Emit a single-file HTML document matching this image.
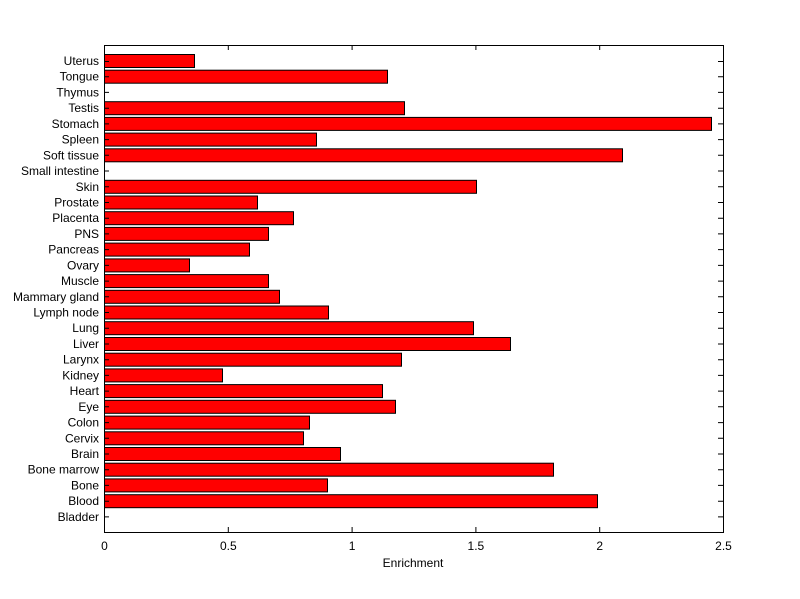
<!DOCTYPE html>
<html><head><style>body{margin:0;background:#fff}svg{display:block}text{font-family:"Liberation Sans",Arial,sans-serif;font-size:12px;fill:#000}</style></head>
<body>
<svg width="800" height="599" xmlns="http://www.w3.org/2000/svg">
<rect width="800" height="599" fill="#fff"/>
<g fill="#ff0000" stroke="#000" stroke-width="1">
<rect x="104.5" y="54.5" width="90" height="13"/>
<rect x="104.5" y="70.2" width="283" height="13"/>
<rect x="104.5" y="101.7" width="300" height="13"/>
<rect x="104.5" y="117.4" width="607" height="13"/>
<rect x="104.5" y="133.1" width="212" height="13"/>
<rect x="104.5" y="148.8" width="518" height="13"/>
<rect x="104.5" y="180.3" width="372" height="13"/>
<rect x="104.5" y="196" width="153" height="13"/>
<rect x="104.5" y="211.7" width="189" height="13"/>
<rect x="104.5" y="227.4" width="164" height="13"/>
<rect x="104.5" y="243.1" width="145" height="13"/>
<rect x="104.5" y="258.9" width="85" height="13"/>
<rect x="104.5" y="274.6" width="164" height="13"/>
<rect x="104.5" y="290.3" width="175" height="13"/>
<rect x="104.5" y="306" width="224" height="13"/>
<rect x="104.5" y="321.7" width="369" height="13"/>
<rect x="104.5" y="337.5" width="406" height="13"/>
<rect x="104.5" y="353.2" width="297" height="13"/>
<rect x="104.5" y="368.9" width="118" height="13"/>
<rect x="104.5" y="384.6" width="278" height="13"/>
<rect x="104.5" y="400.3" width="291" height="13"/>
<rect x="104.5" y="416.1" width="205" height="13"/>
<rect x="104.5" y="431.8" width="199" height="13"/>
<rect x="104.5" y="447.5" width="236" height="13"/>
<rect x="104.5" y="463.2" width="449" height="13"/>
<rect x="104.5" y="478.9" width="223" height="13"/>
<rect x="104.5" y="494.7" width="493" height="13"/>
</g>
<rect x="104.5" y="45.5" width="619" height="487" fill="none" stroke="#000"/>
<path stroke="#000" fill="none" d="M104 61.5h5M718 61.5h5M104 76.7h5M718 76.7h5M104 92.4h5M718 92.4h5M104 108.2h5M718 108.2h5M104 123.9h5M718 123.9h5M104 139.6h5M718 139.6h5M104 155.3h5M718 155.3h5M104 171h5M718 171h5M104 186.8h5M718 186.8h5M104 202.5h5M718 202.5h5M104 218.2h5M718 218.2h5M104 233.9h5M718 233.9h5M104 249.6h5M718 249.6h5M104 265.4h5M718 265.4h5M104 281.1h5M718 281.1h5M104 296.8h5M718 296.8h5M104 312.5h5M718 312.5h5M104 328.2h5M718 328.2h5M104 344h5M718 344h5M104 359.7h5M718 359.7h5M104 375.4h5M718 375.4h5M104 391.1h5M718 391.1h5M104 406.8h5M718 406.8h5M104 422.6h5M718 422.6h5M104 438.3h5M718 438.3h5M104 454h5M718 454h5M104 469.7h5M718 469.7h5M104 485.4h5M718 485.4h5M104 501.2h5M718 501.2h5M104 516.9h5M718 516.9h5M228.3 532v-5M228.3 45v5M352.1 532v-5M352.1 45v5M475.9 532v-5M475.9 45v5M599.7 532v-5M599.7 45v5"/>
<g text-anchor="end">
<text x="99" y="65">Uterus</text>
<text x="99" y="80.7">Tongue</text>
<text x="99" y="96.4">Thymus</text>
<text x="99" y="112.2">Testis</text>
<text x="99" y="127.9">Stomach</text>
<text x="99" y="143.6">Spleen</text>
<text x="99" y="159.3">Soft tissue</text>
<text x="99" y="175">Small intestine</text>
<text x="99" y="190.8">Skin</text>
<text x="99" y="206.5">Prostate</text>
<text x="99" y="222.2">Placenta</text>
<text x="99" y="237.9">PNS</text>
<text x="99" y="253.6">Pancreas</text>
<text x="99" y="269.4">Ovary</text>
<text x="99" y="285.1">Muscle</text>
<text x="99" y="300.8">Mammary gland</text>
<text x="99" y="316.5">Lymph node</text>
<text x="99" y="332.2">Lung</text>
<text x="99" y="348">Liver</text>
<text x="99" y="363.7">Larynx</text>
<text x="99" y="379.4">Kidney</text>
<text x="99" y="395.1">Heart</text>
<text x="99" y="410.8">Eye</text>
<text x="99" y="426.6">Colon</text>
<text x="99" y="442.3">Cervix</text>
<text x="99" y="458">Brain</text>
<text x="99" y="473.7">Bone marrow</text>
<text x="99" y="489.4">Bone</text>
<text x="99" y="505.2">Blood</text>
<text x="99" y="520.9">Bladder</text>
</g>
<g text-anchor="middle">
<text x="104.5" y="550">0</text>
<text x="228.3" y="550">0.5</text>
<text x="352.1" y="550">1</text>
<text x="475.9" y="550">1.5</text>
<text x="599.7" y="550">2</text>
<text x="723.5" y="550">2.5</text>
<text x="413" y="567">Enrichment</text>
</g>
</svg>
</body></html>
